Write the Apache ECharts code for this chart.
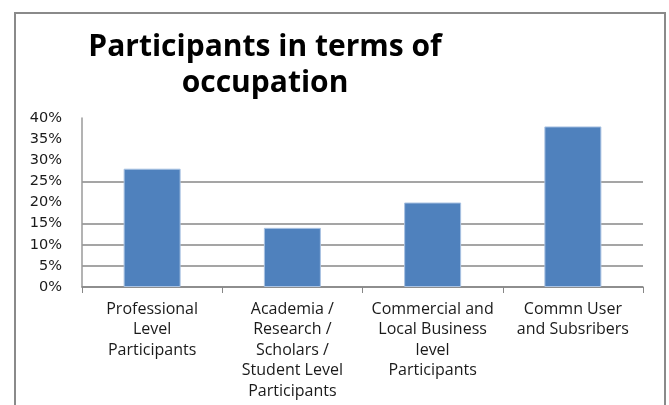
<!DOCTYPE html>
<html>
<head>
<meta charset="utf-8">
<script src="https://cdn.jsdelivr.net/npm/echarts@6/dist/echarts.min.js"></script>
<style>
  html, body { margin: 0; padding: 0; background: #fff; }
  #chart { width: 669px; height: 405px; }
</style>
</head>
<body>
<div id="chart"></div>
<script>
var titleText = 'Participants in terms of\noccupation';
var categories = [
  'Professional\nLevel\nParticipants',
  'Academia /\nResearch /\nScholars /\nStudent Level\nParticipants',
  'Commercial and\nLocal Business\nlevel\nParticipants',
  'Commn User\nand Subsribers'
];
var values = [28, 14, 20, 38];
var yTicks = [0, 5, 10, 15, 20, 25, 30, 35, 40];

var chart = echarts.init(document.getElementById('chart'));

// gridlines only visible at some levels in the original
var gridColors = ['#878787', '#878787', '#878787', '#878787', 'rgba(0,0,0,0)',
  '#878787', 'rgba(0,0,0,0)', 'rgba(0,0,0,0)', 'rgba(0,0,0,0)'];

var option = {
  animation: false,
  backgroundColor: '#fff',
  title: {
    text: titleText,
    left: 260,
    top: 24,
    textAlign: 'center',
    textStyle: {
      fontFamily: 'Open Sans',
      fontWeight: 'bold',
      fontSize: 30,
      lineHeight: 36,
      color: '#000'
    }
  },
  graphic: [{
    type: 'rect',
    shape: { x: 15, y: 13, width: 650, height: 420 },
    style: { fill: 'none', stroke: '#8a8a8a', lineWidth: 2 },
    silent: true
  }],
  grid: { left: 82, right: 26, top: 118, bottom: 118 },
  xAxis: {
    type: 'category',
    data: categories,
    axisLine: { lineStyle: { color: '#878787', width: 1.5 } },
    axisTick: { show: true, length: 6, lineStyle: { color: '#878787' } },
    axisLabel: {
      margin: 12,
      interval: 0,
      fontFamily: 'Open Sans',
      fontSize: 16,
      lineHeight: 20.5,
      color: '#1a1a1a'
    }
  },
  yAxis: {
    type: 'value',
    min: yTicks[0],
    max: yTicks[yTicks.length - 1],
    interval: 5,
    axisLine: { show: true, lineStyle: { color: '#9a9a9a', width: 1.5 } },
    axisTick: { show: false },
    axisLabel: {
      formatter: '{value}%',
      margin: 20,
      fontFamily: 'DejaVu Sans',
      fontSize: 14.5,
      color: '#1a1a1a'
    },
    splitLine: { show: true, lineStyle: { color: gridColors, width: 1.5 } }
  },
  series: [{
    type: 'bar',
    data: values,
    barWidth: 57,
    itemStyle: {
      color: '#4f81bd',
      borderColor: '#a9c2e2',
      borderWidth: 1
    }
  }]
};

chart.setOption(option);
</script>
</body>
</html>
